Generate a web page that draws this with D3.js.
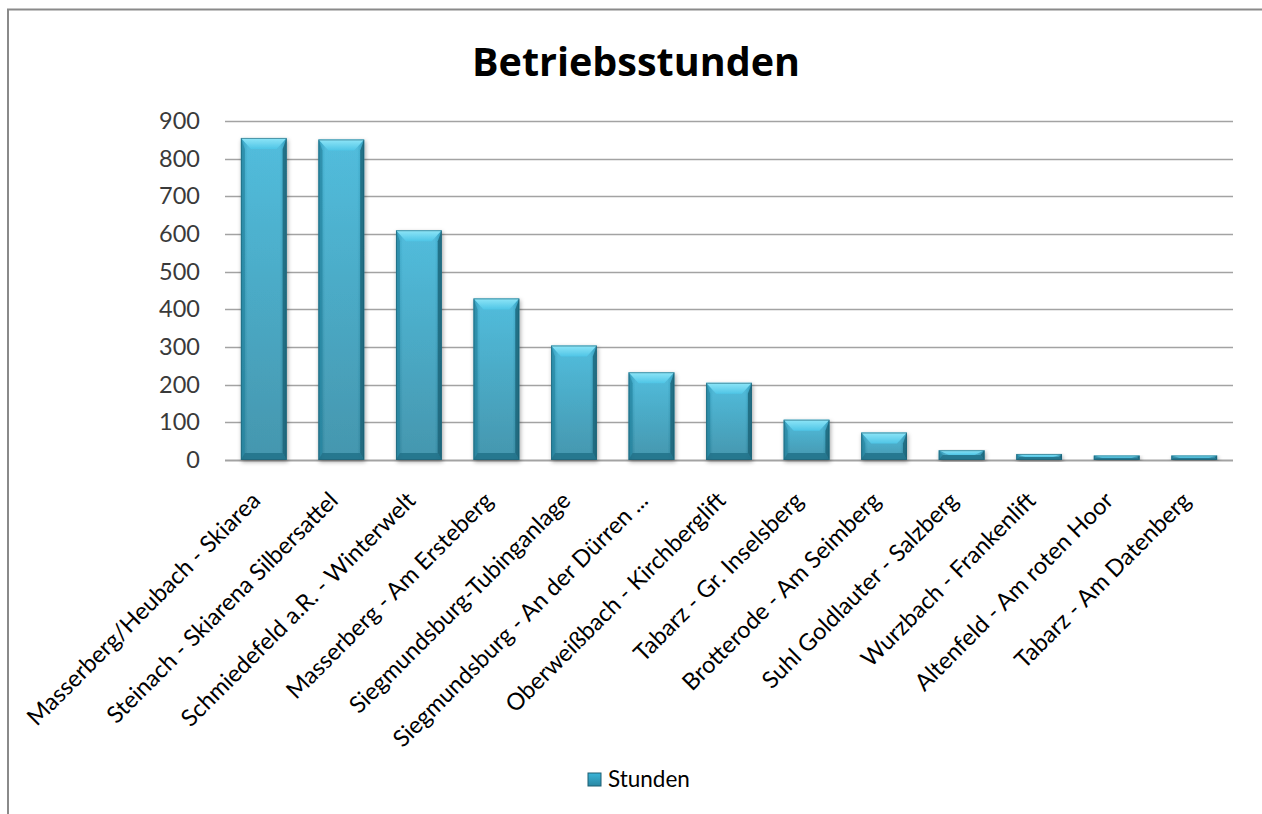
<!DOCTYPE html>
<html>
<head>
<meta charset="utf-8">
<script src="https://cdn.jsdelivr.net/npm/d3@7"></script>
<style>
  body { margin: 0; background: #fff; }
  svg { display: block; font-family: Lato, "Open Sans", sans-serif; }
</style>
</head>
<body>
<div id="chart"></div>
<script>
// Betriebsstunden je Lift
const categories = [
  "Masserberg/Heubach - Skiarea",
  "Steinach - Skiarena Silbersattel",
  "Schmiedefeld a.R. - Winterwelt",
  "Masserberg - Am Ersteberg",
  "Siegmundsburg-Tubinganlage",
  "Siegmundsburg - An der Dürren ...",
  "Oberweißbach - Kirchberglift",
  "Tabarz - Gr. Inselsberg",
  "Brotterode - Am Seimberg",
  "Suhl Goldlauter - Salzberg",
  "Wurzbach - Frankenlift",
  "Altenfeld - Am roten Hoor",
  "Tabarz - Am Datenberg"
];
const stunden = [855, 851, 610, 429, 304, 233, 205, 107, 73, 26, 16, 12, 12];
const yTicks = [0, 100, 200, 300, 400, 500, 600, 700, 800, 900];
const seriesName = "Stunden";
const title = "Betriebsstunden";

const W = 1262, H = 814;
const plot = { left: 225, right: 1233, top: 121, bottom: 460 };

const svg = d3.select("#chart").append("svg")
  .attr("width", W)
  .attr("height", H);

const defs = svg.append("defs");

// gradients for the bevelled bars
const grad = (id, stops, x2, y2) => {
  const g = defs.append("linearGradient").attr("id", id)
    .attr("x1", 0).attr("y1", 0).attr("x2", x2).attr("y2", y2);
  stops.forEach(s => g.append("stop").attr("offset", s[0]).attr("stop-color", s[1]));
};
grad("face", [[0, "#3ab4d8"], [1, "#2b88a3"]], 0, 1);
grad("faceH", [[0, "#000"], [0.15, "#fff"], [0.85, "#fff"], [1, "#000"]], 1, 0);
grad("topBevel", [[0, "#8fe6f8"], [1, "#4fc5e6"]], 0, 1);

const shadow = defs.append("filter").attr("id", "shadow")
  .attr("x", "-30%").attr("y", "-10%").attr("width", "160%").attr("height", "130%");
shadow.append("feDropShadow")
  .attr("dx", 1).attr("dy", 2).attr("stdDeviation", 2)
  .attr("flood-color", "#000").attr("flood-opacity", 0.35);

// chart frame (runs past the window on the right and bottom)
svg.append("rect")
  .attr("x", 8).attr("y", 9.5)
  .attr("width", W + 40).attr("height", H + 40)
  .attr("fill", "#fff")
  .attr("stroke", "#8a8a8a")
  .attr("stroke-width", 2);

svg.append("text")
  .attr("x", 636)
  .attr("y", 76)
  .attr("text-anchor", "middle")
  .attr("font-family", "'Open Sans', Lato, sans-serif")
  .attr("font-size", 39.5)
  .attr("font-weight", "bold")
  .attr("fill", "#000")
  .text(title);

const x = d3.scaleBand()
  .domain(categories)
  .range([plot.left, plot.right])
  .paddingInner(0.41)
  .paddingOuter(0.205);

const y = d3.scaleLinear()
  .domain([0, 900])
  .range([plot.bottom, plot.top]);

// gridlines
svg.append("g")
  .selectAll("line")
  .data(yTicks)
  .join("line")
  .attr("x1", plot.left)
  .attr("x2", plot.right)
  .attr("y1", d => Math.round(y(d)) + 0.5)
  .attr("y2", d => Math.round(y(d)) + 0.5)
  .attr("stroke", "#a3a3a3")
  .attr("stroke-width", d => d === 0 ? 2 : 1.5);

// y axis labels
const yAxis = svg.append("g")
  .attr("transform", `translate(${plot.left},0)`)
  .call(d3.axisLeft(y).tickValues(yTicks).tickSize(0).tickPadding(25));
yAxis.select(".domain").remove();
yAxis.selectAll("text")
  .attr("font-family", "Lato, 'Open Sans', sans-serif")
  .attr("font-size", 23.5)
  .attr("fill", "#3a3a3a");

// bars
const bars = svg.append("g")
  .selectAll("g")
  .data(categories.map((c, i) => ({ c, v: stunden[i] })))
  .join("g")
  .attr("filter", "url(#shadow)");

bars.each(function (d) {
  const g = d3.select(this);
  const x0 = x(d.c), w = x.bandwidth();
  const y0 = y(d.v), y1 = y(0);
  const h = y1 - y0;
  const bt = Math.min(11, h / 2);   // top bevel
  const bs = Math.min(4, h / 2);    // side bevels
  const bb = Math.min(7, h / 2);    // bottom bevel
  const x1 = x0 + w;

  g.append("rect")
    .attr("x", x0).attr("y", y0).attr("width", w).attr("height", h)
    .attr("fill", "url(#face)");
  g.append("rect")
    .attr("x", x0).attr("y", y0).attr("width", w).attr("height", h)
    .attr("fill", "url(#faceH)")
    .attr("opacity", 0.12);

  const poly = (pts, fill, op) => g.append("polygon")
    .attr("points", pts.map(p => p.join(",")).join(" "))
    .attr("fill", fill)
    .attr("opacity", op);

  // left and right edges
  poly([[x0, y0], [x0 + bs, y0 + bt], [x0 + bs, y1 - bb], [x0, y1]], "#2a88a3", 0.7);
  poly([[x1, y0], [x1 - bs, y0 + bt], [x1 - bs, y1 - bb], [x1, y1]], "#1d6478", 0.8);
  // bottom edge
  poly([[x0, y1], [x0 + bs, y1 - bb], [x1 - bs, y1 - bb], [x1, y1]], "#22728a", 0.85);
  // top bevel
  poly([[x0, y0], [x1, y0], [x1 - bs - 6, y0 + bt], [x0 + bs + 6, y0 + bt]], "url(#topBevel)", 1);

  g.append("rect")
    .attr("x", x0 + 0.5).attr("y", y0 + 0.5)
    .attr("width", w - 1).attr("height", Math.max(0, h - 1))
    .attr("fill", "none")
    .attr("stroke", "#1e5f72")
    .attr("stroke-opacity", 0.6);
});

// category labels
svg.append("g")
  .selectAll("text")
  .data(categories)
  .join("text")
  .attr("transform", d => `translate(${x(d) + x.bandwidth() / 2 - 2},${plot.bottom + 42}) rotate(-45)`)
  .attr("text-anchor", "end")
  .attr("font-size", 23.5)
  .attr("fill", "#000")
  .text(d => d);

// legend
const legend = svg.append("g").attr("transform", "translate(588,773)");
legend.append("rect")
  .attr("width", 13).attr("height", 13)
  .attr("fill", "url(#face)")
  .attr("stroke", "#1e5f72")
  .attr("stroke-width", 1);
legend.append("text")
  .attr("x", 20)
  .attr("y", 14)
  .attr("font-size", 22.5)
  .attr("fill", "#000")
  .text(seriesName);
</script>
</body>
</html>
